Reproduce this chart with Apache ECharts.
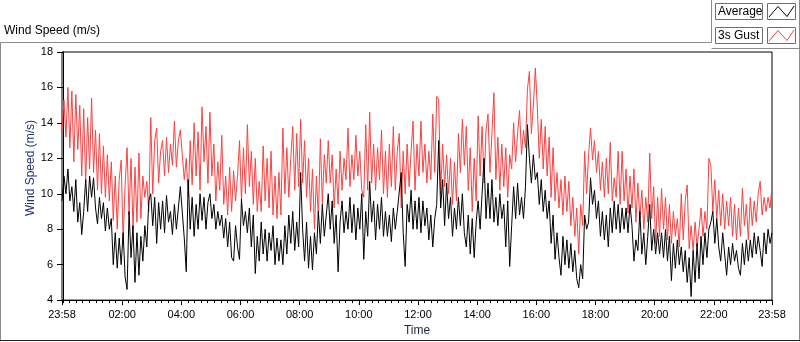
<!DOCTYPE html>
<html>
<head>
<meta charset="utf-8">
<title>Wind Speed (m/s)</title>
<script src="https://cdn.jsdelivr.net/npm/echarts@6/dist/echarts.min.js"></script>
<style>
  html, body { margin: 0; padding: 0; background: #fff; }
  #chart { width: 800px; height: 342px; }
</style>
</head>
<body>
<div id="chart"></div>
<script>
// one sample every 4 minutes, starting 23:58 (minute -2 relative to midnight)
const startMinute = -2
const stepMinutes = 4

// 3s gust (red)
const gust = [
  13.5,15.3,13.2,16.0,12.6,15.8,11.8,15.6,12.5,15.0,
  11.0,14.8,10.6,14.3,11.4,15.4,11.2,13.6,10.2,13.4,
  10.0,12.7,9.8,12.2,9.6,11.8,8.5,11.0,8.0,10.8,
  11.9,7.4,10.5,12.6,8.8,12.0,8.0,11.5,8.4,12.3,
  8.6,11.0,9.8,10.7,9.0,14.3,10.0,13.0,13.7,10.6,
  12.4,13.0,11.0,13.2,11.2,12.8,11.6,14.1,11.5,13.0,
  13.6,13.6,10.8,12.0,9.8,13.0,10.5,14.0,11.0,13.5,
  10.2,14.9,11.8,13.8,10.6,14.6,11.0,12.8,9.6,11.8,
  10.2,13.3,9.4,11.0,8.8,11.5,9.0,11.3,9.6,11.0,
  13.0,9.6,12.6,10.0,13.9,10.4,12.4,9.4,12.0,9.0,
  10.7,9.0,12.7,9.6,12.0,9.2,12.4,8.8,11.0,8.6,
  11.2,8.8,13.7,10.0,12.6,9.8,12.0,13.8,10.2,13.4,
  10.4,14.2,10.6,13.0,9.8,12.0,9.0,11.4,8.0,11.0,
  8.6,13.1,9.4,12.2,10.6,13.0,10.6,12.2,9.2,11.4,
  9.4,12.4,10.2,12.0,10.8,13.7,10.4,12.2,10.8,13.3,
  11.0,12.4,10.2,9.8,13.9,10.2,14.6,10.6,12.8,10.2,
  12.6,10.8,13.6,10.0,12.4,9.8,12.8,10.4,13.8,10.2,
  12.4,13.4,9.2,12.4,10.0,12.8,10.4,12.4,14.1,10.2,
  12.8,11.0,14.1,11.2,12.8,10.6,12.4,10.8,14.5,11.2,
  15.5,15.3,10.0,12.8,10.4,12.2,10.0,12.0,9.4,11.8,
  9.6,13.4,11.2,14.2,11.6,13.8,10.2,12.6,9.0,12.0,
  9.6,14.4,11.0,13.8,10.6,13.6,14.5,11.2,13.4,15.7,
  10.8,13.2,10.2,12.8,10.4,12.6,9.8,12.2,11.4,14.0,
  11.8,13.4,14.7,12.2,13.6,12.6,15.9,16.9,13.4,15.0,
  17.1,14.9,12.0,14.2,11.4,13.8,11.0,13.2,9.8,12.6,
  9.6,11.2,9.2,10.8,8.8,11.0,9.0,10.7,8.2,9.8,
  7.6,9.2,6.6,9.4,8.2,12.4,10.0,12.2,13.7,11.9,
  13.0,11.2,12.4,10.2,11.8,9.8,12.0,10.0,12.9,9.6,
  10.9,9.8,12.4,9.4,12.4,9.6,11.4,8.9,11.0,9.2,
  11.4,8.4,10.6,8.6,10.2,8.0,9.8,8.4,12.3,8.6,
  10.4,7.2,9.8,7.6,10.3,8.0,9.8,7.4,9.4,7.2,
  9.0,7.6,8.6,7.0,10.0,7.4,9.6,10.5,6.9,8.2,
  6.8,8.4,7.0,8.0,9.2,7.6,9.0,8.0,12.0,11.6,
  9.0,10.8,8.6,10.2,8.2,10.0,8.0,9.6,8.2,9.8,
  7.6,9.4,7.4,9.2,7.6,10.3,8.2,9.4,7.4,9.8,
  8.2,9.6,8.4,10.0,10.7,8.8,9.8,9.0,9.8,9.2,
  10.4
]

// average (black)
const average = [
  9.6,11.0,10.0,11.4,9.6,10.4,9.0,10.8,8.4,9.5,
  7.7,9.0,10.8,9.0,11.0,9.8,10.9,9.2,8.3,9.8,
  8.6,9.5,7.9,9.2,8.0,8.6,6.0,7.8,5.8,7.5,
  6.0,7.8,5.3,4.6,9.0,6.4,8.2,5.0,7.8,5.4,
  7.6,6.2,8.2,7.0,9.6,10.0,8.2,9.8,7.2,9.5,
  8.0,9.6,7.8,9.9,8.4,9.0,7.7,9.4,8.0,9.2,
  10.4,10.4,7.5,5.6,10.8,8.0,9.8,7.6,9.4,8.0,
  10.0,8.5,9.8,8.0,9.5,10.0,8.6,9.4,8.0,9.0,
  8.2,8.8,7.5,8.6,7.0,8.4,6.4,6.2,8.2,7.0,
  6.3,9.7,8.2,9.0,7.8,9.2,7.0,8.8,5.5,7.6,
  6.2,8.4,6.6,8.0,6.2,7.8,6.8,8.2,6.0,7.5,
  6.2,7.4,6.0,8.2,6.6,8.8,7.2,9.0,6.8,8.4,
  7.0,11.2,8.0,6.2,8.4,5.8,7.6,5.7,7.8,6.6,
  9.0,7.2,9.4,7.6,8.8,10.0,8.0,9.6,7.2,8.8,
  5.6,8.4,9.6,7.8,9.0,8.0,9.8,7.8,9.4,7.4,
  9.2,8.0,10.0,6.3,9.0,7.6,10.7,8.4,9.6,7.4,
  9.4,8.0,9.8,7.6,9.0,7.6,8.8,7.3,9.2,8.0,
  9.0,9.0,11.2,7.8,5.9,9.4,8.4,10.2,8.0,9.6,
  8.0,9.8,7.8,9.6,8.2,9.2,7.4,8.8,7.0,8.6,
  9.4,13.0,9.2,10.8,8.2,10.6,8.6,9.8,7.6,9.2,
  8.0,9.8,8.2,10.0,7.8,7.0,8.8,6.6,8.6,6.4,
  8.4,9.6,8.0,10.0,12.0,8.6,10.6,8.6,10.8,8.4,
  9.8,8.2,10.0,8.6,9.4,7.0,9.6,5.9,8.2,10.4,
  8.6,10.6,8.8,9.8,8.6,10.4,13.9,12.0,10.6,12.2,
  10.8,11.2,9.4,10.8,9.0,10.2,8.6,9.6,7.2,8.8,
  6.3,7.8,6.4,5.4,7.6,6.0,7.4,5.8,7.2,5.6,
  6.8,5.2,4.7,6.0,5.2,8.8,8.0,8.4,10.9,9.4,
  10.2,8.6,9.6,7.6,9.0,7.4,8.8,7.0,9.2,7.8,
  9.6,8.0,9.4,7.8,9.2,8.0,9.2,7.8,9.4,8.2,
  6.2,7.4,6.8,9.0,6.6,7.8,6.0,7.6,9.4,6.8,
  8.0,6.6,7.8,6.6,7.8,6.4,8.0,6.2,7.6,5.1,
  7.2,5.8,7.4,6.0,7.0,5.6,6.8,5.0,6.4,4.2,
  6.8,5.0,7.2,5.2,7.6,6.0,7.8,6.4,8.0,8.4,
  9.0,7.2,8.6,7.0,6.2,7.8,6.6,5.4,7.0,6.0,
  7.2,6.2,6.8,5.8,5.4,7.2,6.0,7.4,6.2,7.4,
  6.4,7.8,6.6,7.6,6.8,5.9,7.8,6.6,8.0,7.2,
  7.8
]

// x axis labels (minutes from midnight)
const tickMinutes = [-2, 120, 240, 360, 480, 600, 720, 840, 960, 1080, 1200, 1320, 1438]
const tickLabels = ['23:58', '02:00', '04:00', '06:00', '08:00', '10:00', '12:00', '14:00', '16:00', '18:00', '20:00', '22:00', '23:58']

const yTicks = { min: 4, max: 18, interval: 2 }

// minor ticks: 9 divisions per 2h major
const minorTicks = []
for (let m = 0; m <= 1440; m += 120 / 9) {
  const v = Math.round(m * 100) / 100
  if (v > startMinute + 1 && v < 1437 && tickMinutes.indexOf(v) < 0) minorTicks.push(v)
}

const toPairs = (arr) => arr.map((v, i) => [startMinute + i * stepMinutes, v])

const font = "'Liberation Sans', Arial, sans-serif"
const xMin = tickMinutes[0]
const xMax = tickMinutes[tickMinutes.length - 1]

const chart = echarts.init(document.getElementById('chart'))

chart.setOption({
  animation: false,
  backgroundColor: '#fff',
  textStyle: { fontFamily: font },
  grid: {
    left: 62,
    right: 28,
    top: 52,
    bottom: 39,
    show: true,
    borderColor: '#000',
    borderWidth: 1,
    backgroundColor: '#fff'
  },
  xAxis: [{
    type: 'value',
    position: 'bottom',
    min: xMin,
    max: xMax,
    name: 'Time',
    nameLocation: 'middle',
    nameGap: 24,
    nameTextStyle: { color: '#1a2540', fontSize: 12, fontFamily: font },
    axisLine: { lineStyle: { color: '#000' } },
    axisTick: { length: 5, customValues: tickMinutes, lineStyle: { color: '#000' } },
    axisLabel: {
      customValues: tickMinutes,
      margin: 9,
      color: '#000',
      fontSize: 11,
      fontFamily: font,
      formatter: (val) => tickLabels[tickMinutes.indexOf(val)] || ''
    },
    splitLine: { show: false }
  }, {
    // minor ticks
    type: 'value',
    position: 'bottom',
    min: xMin,
    max: xMax,
    axisLine: { show: false },
    axisTick: { length: 3, customValues: minorTicks, lineStyle: { color: '#000' } },
    axisLabel: { show: false },
    splitLine: { show: false }
  }],
  yAxis: {
    type: 'value',
    min: yTicks.min,
    max: yTicks.max,
    interval: yTicks.interval,
    axisLine: { show: true, lineStyle: { color: '#000' } },
    axisTick: { show: true, length: 6, lineStyle: { color: '#000' } },
    axisLabel: { margin: 9, color: '#000', fontSize: 11, fontFamily: font },
    splitLine: { show: false }
  },
  series: [{
    name: '3s Gust',
    type: 'line',
    xAxisIndex: 0,
    data: toPairs(gust),
    showSymbol: false,
    lineStyle: { color: '#ff4040', width: 1 },
    itemStyle: { color: '#ff4040' }
  }, {
    name: 'Average',
    type: 'line',
    xAxisIndex: 0,
    data: toPairs(average),
    showSymbol: false,
    lineStyle: { color: '#000', width: 1 },
    itemStyle: { color: '#000' }
  }],
  graphic: [
    // panel frame
    { type: 'polyline', shape: { points: [[0.5, 341], [0.5, 42.5], [711.5, 42.5], [711.5, 0]] }, style: { stroke: '#8c8c8c', fill: null, lineWidth: 1 } },
    { type: 'polyline', shape: { points: [[711.5, 48.5], [799.5, 48.5]] }, style: { stroke: '#8c8c8c', fill: null, lineWidth: 1 } },
    { type: 'line', shape: { x1: 799.5, y1: 0, x2: 799.5, y2: 341 }, style: { stroke: '#8c8c8c', lineWidth: 1 } },
    { type: 'line', shape: { x1: 0, y1: 340.5, x2: 800, y2: 340.5 }, style: { stroke: '#222', lineWidth: 1 } },
    // chart label
    { type: 'text', left: 4, top: 25, style: { text: 'Wind Speed (m/s)', fill: '#000', font: '12px ' + font } },
    // y axis title
    { type: 'text', x: 31, y: 168, rotation: Math.PI / 2, style: { text: 'Wind Speed (m/s)', fill: '#1f3270', font: '12px ' + font, align: 'center', verticalAlign: 'middle' } },
    // legend: Average
    { type: 'rect', shape: { x: 715.5, y: 3.5, width: 47, height: 16 }, style: { stroke: '#6e6e6e', fill: '#fff', lineWidth: 1 } },
    { type: 'text', x: 718, y: 11.5, style: { text: 'Average', fill: '#000', font: '12px ' + font, verticalAlign: 'middle' } },
    { type: 'rect', shape: { x: 767.5, y: 3.5, width: 28, height: 16 }, style: { stroke: '#6e6e6e', fill: '#fff', lineWidth: 1 } },
    { type: 'polyline', shape: { points: [[769, 17], [778, 6.5], [787, 16.5], [794, 6]] }, style: { stroke: '#000', fill: null, lineWidth: 1 } },
    // legend: 3s Gust
    { type: 'rect', shape: { x: 715.5, y: 27.5, width: 47, height: 16 }, style: { stroke: '#6e6e6e', fill: '#fff', lineWidth: 1 } },
    { type: 'text', x: 718, y: 35.5, style: { text: '3s Gust', fill: '#000', font: '12px ' + font, verticalAlign: 'middle' } },
    { type: 'rect', shape: { x: 767.5, y: 27.5, width: 28, height: 16 }, style: { stroke: '#6e6e6e', fill: '#fff', lineWidth: 1 } },
    { type: 'polyline', shape: { points: [[769, 41], [778, 30.5], [787, 40.5], [794, 30]] }, style: { stroke: '#ff4040', fill: null, lineWidth: 1 } }
  ]
})
</script>
</body>
</html>
